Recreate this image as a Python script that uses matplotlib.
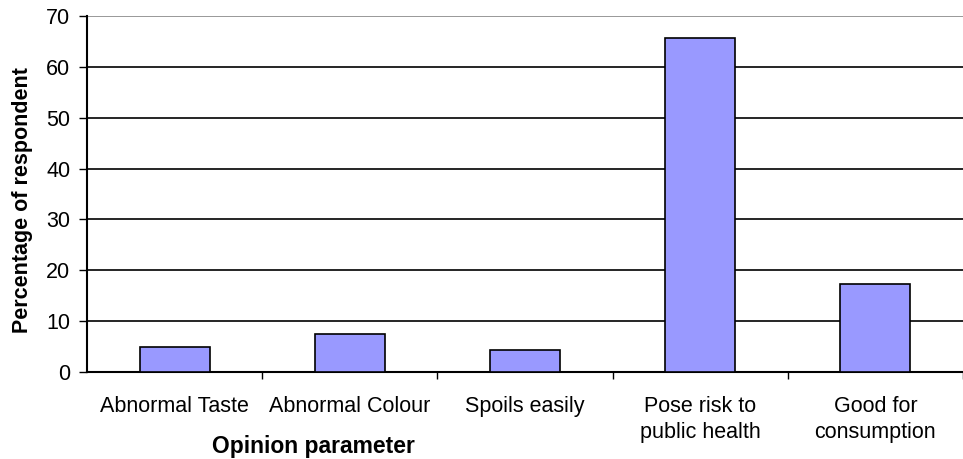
import matplotlib
matplotlib.use("Agg")
import matplotlib.pyplot as plt

categories = ["Abnormal Taste", "Abnormal Colour", "Spoils easily",
              "Pose risk to\npublic health", "Good for\nconsumption"]
values = [5.0, 7.4, 4.3, 65.7, 17.4]
yticks = [0, 10, 20, 30, 40, 50, 60, 70]

plt.rcParams['font.family'] = ['Liberation Sans', 'DejaVu Sans']

fig = plt.figure(figsize=(9.63, 4.59), dpi=100)
W, H = 963, 459
left, right, top, bottom = 87, 963, 16, 372
ax = fig.add_axes([left / W, 1 - bottom / H, (right - left) / W, (bottom - top) / H])

x = list(range(len(categories)))
ax.bar(x, values, width=0.4, color="#9999FF", edgecolor="black", linewidth=1.2, zorder=3)

span = (right - left) / 177.0
ax.set_xlim(-0.5, -0.5 + span)
ax.set_ylim(0, 70)
ax.set_yticks(yticks)
ax.set_yticklabels([str(t) for t in yticks], fontsize=15.5)
ax.set_xticks([i + 0.5 for i in range(len(categories))])
ax.set_xticklabels([])
ax.set_xticks(x, minor=True)
ax.set_xticklabels(categories, minor=True, fontsize=15.5, linespacing=1.35)
ax.tick_params(axis='x', which='minor', length=0, pad=17)
ax.tick_params(axis='x', which='major', length=5, width=1)
ax.tick_params(axis='y', length=6, width=1, pad=6)

for t in yticks[1:-1]:
    ax.axhline(t, color="black", linewidth=1.2, zorder=1)
ax.axhline(70, color="#888888", linewidth=1.2, zorder=1)

for s in ["top", "right"]:
    ax.spines[s].set_visible(False)
ax.spines["left"].set_linewidth(1.5)
ax.spines["bottom"].set_linewidth(1.5)

ax.set_ylabel("Percentage of respondent", fontsize=15.5, fontweight="bold",
              va="center", ha="center")
ax.yaxis.set_label_coords((23 - left) / (right - left), (bottom - 200) / (bottom - top))
ax.set_xlabel("Opinion parameter", fontsize=16.5, fontweight="bold",
              va="center", ha="center")
ax.xaxis.set_label_coords((313 - left) / (right - left), (bottom - 446) / (bottom - top))

fig.savefig("out.png", dpi=100)
